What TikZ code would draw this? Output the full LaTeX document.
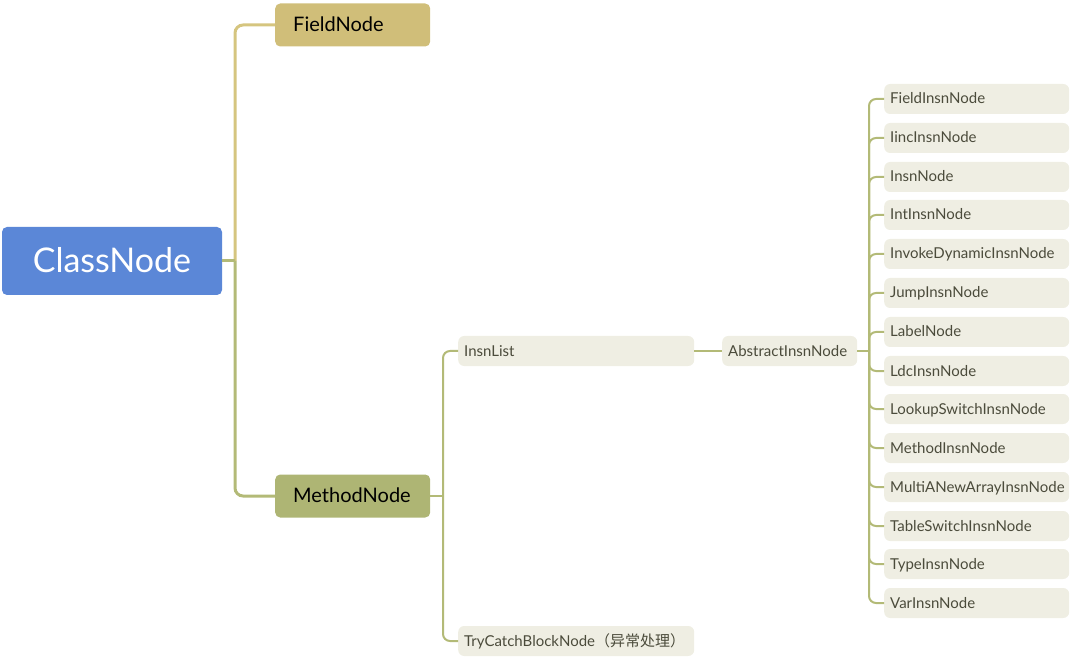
\documentclass[tikz,border=0pt]{standalone}
\usepackage{fontspec}
\setmainfont{Lato}
\newfontfamily\cjk{Noto Sans CJK SC}
\usepackage{xcolor}
\usetikzlibrary{positioning}
\definecolor{classblue}{HTML}{5B87D7}
\definecolor{fieldgold}{HTML}{D0BE79}
\definecolor{methodolive}{HTML}{AEB574}
\definecolor{leafgray}{HTML}{EFEEE3}
\definecolor{leaftext}{HTML}{4B4B3B}
\definecolor{goldline}{HTML}{D5C57F}
\definecolor{oliveline}{HTML}{B3BA77}
\begin{document}
\begin{tikzpicture}[x=1pt,y=-1pt]
	\tikzstyle{root}=[fill=classblue,text=white,rounded corners=5pt,minimum width=220pt,minimum height=68pt,text height=24pt,text depth=1pt,font=\fontsize{34}{40}\selectfont]
	\tikzstyle{main}=[rounded corners=5pt,anchor=west,minimum height=43pt,inner xsep=18pt,text width=119pt,text height=14pt,text depth=1pt,align=left,font=\fontsize{20}{24}\selectfont]
	\tikzstyle{leaf}=[fill=leafgray,text=leaftext,rounded corners=6pt,anchor=west,minimum height=30pt,inner xsep=6pt,text height=11pt,text depth=1pt,align=left,font=\fontsize{15}{18}\selectfont]
	\tikzstyle{branch}=[line width=3pt,rounded corners=8pt]
	\tikzstyle{twig}=[oliveline,line width=2pt,rounded corners=7pt]
	\useasboundingbox (0,0) rectangle (1080,663);
	\node[root](cls) at (112,261) {ClassNode};
	\node[main,fill=fieldgold](fld) at (275,25) {FieldNode};
	\node[main,fill=methodolive](mth) at (275,496) {MethodNode};
	\node[leaf,text width=224pt](lst) at (458,351) {InsnList};
	\node[leaf,text width=224pt](try) at (458,641) {TryCatchBlockNode{\cjk（异常处理）}};
	\node[leaf,text width=123pt](abs) at (722,351) {AbstractInsnNode};
	\node[leaf,text width=173pt](n1) at (884,99) {FieldInsnNode};
	\node[leaf,text width=173pt](n2) at (884,138) {IincInsnNode};
	\node[leaf,text width=173pt](n3) at (884,177) {InsnNode};
	\node[leaf,text width=173pt](n4) at (884,215) {IntInsnNode};
	\node[leaf,text width=173pt](n5) at (884,254) {InvokeDynamicInsnNode};
	\node[leaf,text width=173pt](n6) at (884,293) {JumpInsnNode};
	\node[leaf,text width=173pt](n7) at (884,332) {LabelNode};
	\node[leaf,text width=173pt](n8) at (884,371) {LdcInsnNode};
	\node[leaf,text width=173pt](n9) at (884,409) {LookupSwitchInsnNode};
	\node[leaf,text width=173pt](n10) at (884,448) {MethodInsnNode};
	\node[leaf,text width=173pt](n11) at (884,487) {MultiANewArrayInsnNode};
	\node[leaf,text width=173pt](n12) at (884,526) {TableSwitchInsnNode};
	\node[leaf,text width=173pt](n13) at (884,564) {TypeInsnNode};
	\node[leaf,text width=173pt](n14) at (884,603) {VarInsnNode};
	\coordinate (t1) at (235,261);
	\coordinate (t2) at (443,496);
	\coordinate (t3) at (869,351);
	\draw[branch,goldline](t1) |- (fld.west);
	\draw[branch,oliveline](t1) |- (mth.west);
	\draw[branch,oliveline](cls.east) -- (t1);
	\draw[twig](mth.east) -- (t2);
	\draw[twig](t2) |- (lst.west);
	\draw[twig](t2) |- (try.west);
	\draw[twig](lst.east) -- (abs.west);
	\draw[twig](abs.east) -- (t3);
	\draw[twig](t3) |- (n1.west);
	\draw[twig](t3) |- (n2.west);
	\draw[twig](t3) |- (n3.west);
	\draw[twig](t3) |- (n4.west);
	\draw[twig](t3) |- (n5.west);
	\draw[twig](t3) |- (n6.west);
	\draw[twig](t3) |- (n7.west);
	\draw[twig](t3) |- (n8.west);
	\draw[twig](t3) |- (n9.west);
	\draw[twig](t3) |- (n10.west);
	\draw[twig](t3) |- (n11.west);
	\draw[twig](t3) |- (n12.west);
	\draw[twig](t3) |- (n13.west);
	\draw[twig](t3) |- (n14.west);
\end{tikzpicture}
\end{document}
